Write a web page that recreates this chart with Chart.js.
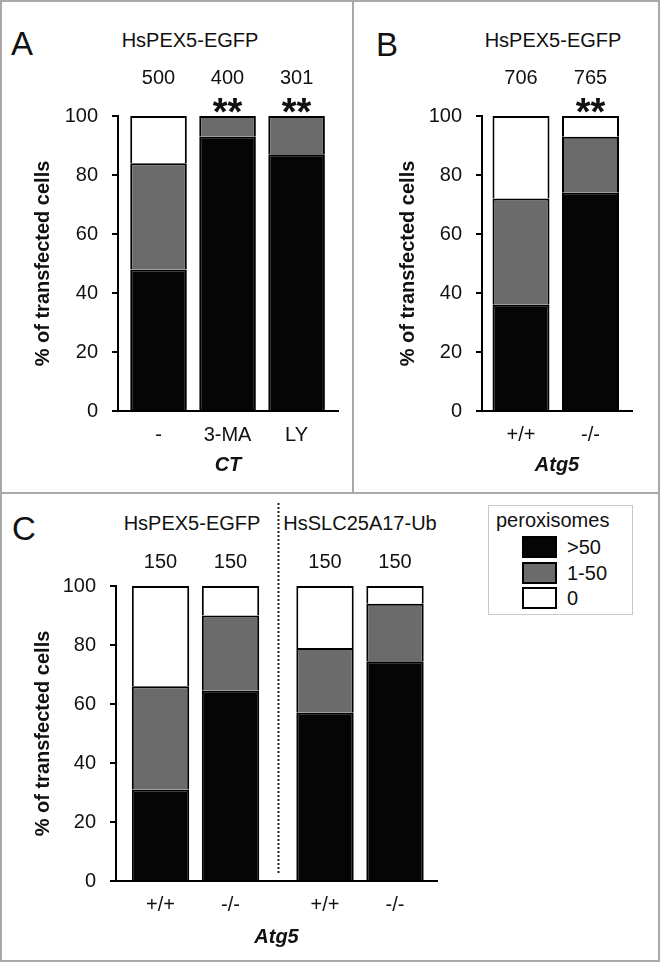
<!DOCTYPE html>
<html>
<head>
<meta charset="utf-8">
<script src="https://cdn.jsdelivr.net/npm/chart.js@4.4.1/dist/chart.umd.min.js"></script>
<style>
  body { margin: 0; background: #fff; font-family: "Liberation Sans", Arial, sans-serif; color: #111; }
  #fig { position: relative; width: 660px; height: 962px; overflow: hidden; }
  .rule { position: absolute; background: #a9a9a9; }
  canvas { position: absolute; }
  .t { position: absolute; white-space: nowrap; font-size: 20px; line-height: 1; transform: translate(-50%, -50%); }
  .let { position: absolute; font-size: 33px; line-height: 1; transform: translateY(-50%); }
  #legend { position: absolute; left: 488px; top: 505px; width: 143px; height: 108px; border: 1px solid #c8c8c8; }
  #legend .lt { position: absolute; left: 7px; top: 14px; font-size: 20px; line-height: 1; transform: translateY(-50%); }
  #legend .sw { position: absolute; left: 33px; width: 31px; height: 18px; border: 2px solid #000; }
  #legend .sl { position: absolute; left: 78px; font-size: 20px; line-height: 1; transform: translateY(-50%); }
</style>
</head>
<body>
<div id="fig">
  <div class="rule" style="left:0;top:0;width:660px;height:2px"></div>
  <div class="rule" style="left:0;top:0;width:2px;height:962px"></div>
  <div class="rule" style="left:658px;top:0;width:2px;height:962px"></div>
  <div class="rule" style="left:0;top:960px;width:660px;height:2px"></div>
  <div class="rule" style="left:0;top:492px;width:660px;height:2px"></div>
  <div class="rule" style="left:352px;top:0;width:2px;height:493px"></div>

  <div class="let" style="left:11px;top:43px">A</div>
  <div class="let" style="left:376px;top:44px">B</div>
  <div class="let" style="left:12px;top:528px">C</div>
  <div class="t" style="left:190px;top:40px">HsPEX5-EGFP</div>
  <div class="t" style="left:553px;top:40px">HsPEX5-EGFP</div>
  <div class="t" style="left:192px;top:523px">HsPEX5-EGFP</div>
  <div class="t" style="left:360px;top:523px">HsSLC25A17-Ub</div>

  <canvas id="chartA" width="353" height="492" style="left:0;top:0"></canvas>
  <canvas id="chartB" width="307" height="492" style="left:353px;top:0"></canvas>
  <canvas id="chartC" width="470" height="469" style="left:0;top:493px"></canvas>
  <div id="legend"><div class="lt">peroxisomes</div></div>
</div>
<script>
// series (bottom to top of each stack)
const seriesNames = ['>50', '1-50', '0'];
const seriesColors = ['#050505', '#6b6b6b', '#ffffff'];

// A: HsPEX5-EGFP, CT
const labelsA = ['-', '3-MA', 'LY'];
const countsA = [500, 400, 301];
const starsA = ['', '**', '**'];
const over50A = [48, 93, 87];
const mid50A = [36, 7, 13];
const noneA = [16, 0, 0];

// B: HsPEX5-EGFP, Atg5
const labelsB = ['+/+', '-/-'];
const countsB = [706, 765];
const starsB = ['', '**'];
const over50B = [36, 74];
const mid50B = [36, 19];
const noneB = [28, 7];

// C: HsPEX5-EGFP | HsSLC25A17-Ub, Atg5
const labelsC = ['+/+', '-/-', '+/+', '-/-'];
const countsC = [150, 150, 150, 150];
const starsC = ['', '', '', ''];
const over50C = [31, 64.5, 57, 74.5];
const mid50C = [35, 25.5, 22, 19.5];
const noneC = [34, 10, 21, 6];
const slotsC = [1, 2, 3.35, 4.35];   // two groups with a wider gap between them

Chart.defaults.font.family = '"Liberation Sans", Arial, sans-serif';
Chart.defaults.color = '#111';

// counts, significance stars and the group divider
const barNotes = {
  id: 'barNotes',
  afterDraw(chart, args, o) {
    const { ctx, chartArea, scales: { x } } = chart;
    ctx.save();
    ctx.fillStyle = '#111';
    ctx.textAlign = 'center';
    o.slots.forEach((v, i) => {
      const px = x.getPixelForValue(v);
      ctx.font = '20px "Liberation Sans", Arial, sans-serif';
      ctx.textBaseline = 'middle';
      ctx.fillText(String(o.counts[i]), px, chartArea.top - o.countGap);
      if (o.stars[i]) {
        ctx.font = 'bold 38px "Liberation Sans", Arial, sans-serif';
        ctx.textBaseline = 'alphabetic';
        ctx.fillText(o.stars[i], px, chartArea.top + 9);
      }
    });
    if (o.divideAfter != null) {
      const a = x.getPixelForValue(o.slots[o.divideAfter]);
      const b = x.getPixelForValue(o.slots[o.divideAfter + 1]);
      const mx = Math.round((a + b) / 2) + 0.5;
      ctx.strokeStyle = '#222';
      ctx.lineWidth = 2;
      ctx.setLineDash([2, 2]);
      ctx.beginPath();
      ctx.moveTo(mx, chartArea.top - 83);
      ctx.lineTo(mx, chartArea.bottom - 8);
      ctx.stroke();
    }
    ctx.restore();
  }
};

function panel(id, c) {
  const slots = c.slots || c.labels.map((_, i) => i + 1);
  return new Chart(document.getElementById(id), {
    type: 'bar',
    data: {
      datasets: seriesNames.map((name, k) => ({
        label: name,
        data: slots.map((s, i) => ({ x: s, y: c.values[k][i] })),
        backgroundColor: seriesColors[k],
        borderColor: '#000',
        borderWidth: 2,
        barPercentage: 0.82,
        categoryPercentage: 1,
      })),
    },
    options: {
      responsive: false,
      animation: false,
      layout: { padding: c.pad },
      plugins: {
        legend: { display: false },
        tooltip: { enabled: false },
        barNotes: { slots, counts: c.counts, stars: c.stars, countGap: c.countGap, divideAfter: c.divideAfter },
      },
      scales: {
        x: {
          type: 'linear', stacked: true, min: c.xMin, max: c.xMax, offset: false,
          grid: { display: false },
          border: { display: true, color: '#000', width: 2 },
          afterBuildTicks: s => { s.ticks = slots.map(v => ({ value: v })); },
          afterFit: s => { s.height = 70; },
          ticks: { autoSkip: false, maxRotation: 0, padding: 4, color: '#111', font: { size: 20 }, callback: (v, i) => c.labels[i] },
          title: { display: true, text: c.xTitle, color: '#111', font: { size: 20, weight: 'bold', style: 'italic' }, padding: { top: 0, bottom: c.xTitlePad } },
        },
        y: {
          stacked: true, min: 0, max: 100,
          grid: { drawOnChartArea: false, drawTicks: true, tickLength: 6, lineWidth: 2, color: '#000' },
          border: { display: true, color: '#000', width: 2 },
          afterFit: s => { s.width = c.yWidth; },
          ticks: { stepSize: 20, padding: 14, color: '#111', font: { size: 20 } },
          title: { display: true, text: '% of transfected cells', color: '#111', font: { size: 20, weight: 'bold' }, padding: { top: c.yTitlePad, bottom: 0 } },
        },
      },
    },
    plugins: [barNotes],
  });
}

panel('chartA', {
  labels: labelsA, counts: countsA, stars: starsA, values: [over50A, mid50A, noneA],
  xMin: 0.413, xMax: 3.6, xTitle: 'CT', xTitlePad: 4, yTitlePad: 31, yWidth: 118,
  countGap: 38, pad: { top: 116, right: 15, bottom: 11, left: 0 },
});
panel('chartB', {
  labels: labelsB, counts: countsB, stars: starsB, values: [over50B, mid50B, noneB],
  xMin: 0.439, xMax: 2.597, xTitle: 'Atg5', xTitlePad: 4, yTitlePad: 43, yWidth: 129,
  countGap: 38, pad: { top: 116, right: 28, bottom: 11, left: 0 },
});
panel('chartC', {
  labels: labelsC, counts: countsC, stars: starsC, values: [over50C, mid50C, noneC], slots: slotsC,
  xMin: 0.364, xMax: 4.95, xTitle: 'Atg5', xTitlePad: 2, yTitlePad: 31, yWidth: 116,
  countGap: 24, divideAfter: 1, pad: { top: 93, right: 33, bottom: 11, left: 0 },
});

// legend built from the series
const legendEl = document.getElementById('legend');
seriesNames.forEach((name, k) => {
  const sw = document.createElement('div');
  sw.className = 'sw';
  sw.style.top = (30 + k * 25.5) + 'px';
  sw.style.background = seriesColors[k];
  legendEl.appendChild(sw);
  const lb = document.createElement('div');
  lb.className = 'sl';
  lb.style.top = (41 + k * 25.5) + 'px';
  lb.textContent = name;
  legendEl.appendChild(lb);
});
</script>
</body>
</html>
